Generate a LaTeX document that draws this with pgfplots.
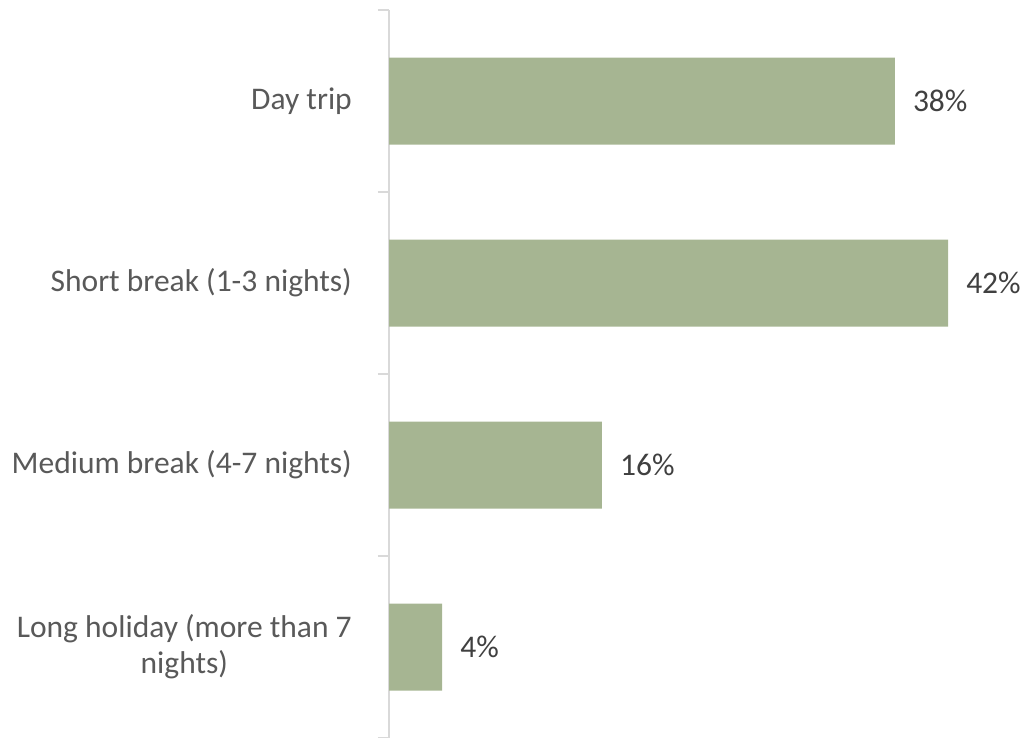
\documentclass[border=0pt]{standalone}
\usepackage{pgfplots}
\pgfplotsset{compat=1.18}
\usepackage{fontspec}
\setmainfont{Carlito}
\definecolor{barc}{HTML}{A6B592}
\definecolor{axc}{HTML}{D9D9D9}
\definecolor{lbl}{HTML}{595959}
\definecolor{vlbl}{HTML}{404040}
\begin{document}
\begin{tikzpicture}[x=1pt,y=1pt]
\useasboundingbox (0,0) rectangle (1028,738);
\begin{axis}[
  at={(389pt,0pt)}, anchor=south west,
  scale only axis, width=625.6pt, height=728pt,
  xmin=0, xmax=47, ymin=-0.5, ymax=3.5, y dir=reverse,
  xbar, bar width=87pt, bar shift=0pt,
  hide x axis,
  axis y line=left,
  y axis line style={-, axc, line width=2pt},
  ytick={0,1,2,3},
  yticklabels={Day trip, Short break (1-3 nights), Medium break (4-7 nights), {Long holiday (more than 7\\nights)}},
  yticklabel style={align=center, anchor=east, inner sep=0pt, xshift=-37pt, text=lbl, font=\fontsize{31.5}{36}\selectfont},
  major tick length=0pt,
  minor ytick={-0.5,0.5,1.5,2.5,3.5},
  minor tick length=11pt,
  ytick align=outside,
  y tick style={axc, line width=2pt},
  /pgf/number format/assume math mode=true,
  nodes near coords={\pgfmathprintnumber[fixed,precision=0]{\pgfplotspointmeta}\%},
  nodes near coords style={anchor=west, inner sep=0pt, xshift=18pt, text=vlbl, font=\fontsize{31.5}{36}\selectfont},
  clip=false,
]
\addplot[fill=barc, draw=none] coordinates {(38,0) (42,1) (16,2) (4,3)};
\end{axis}
\end{tikzpicture}
\end{document}
